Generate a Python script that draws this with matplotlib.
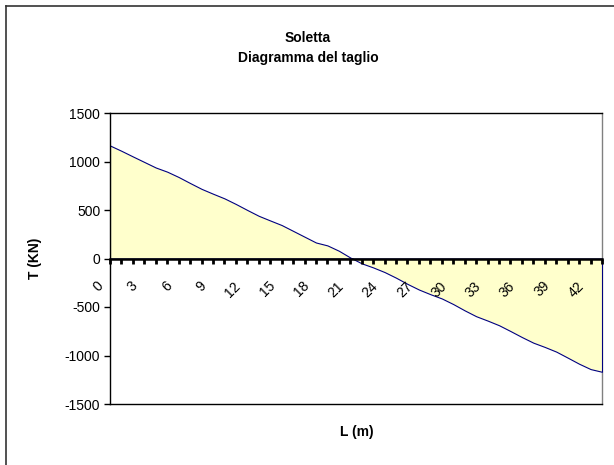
import matplotlib
matplotlib.use("Agg")
import matplotlib.pyplot as plt
from matplotlib.lines import Line2D
from matplotlib.transforms import ScaledTranslation

plt.rcParams['font.family'] = ['Liberation Sans', 'DejaVu Sans']

# Shear along the slab, one value per metre
categories = [0, 1, 2, 3, 4, 5, 6, 7, 8, 9, 10, 11, 12, 13, 14, 15, 16, 17, 18, 19, 20, 21,
              22, 23, 24, 25, 26, 27, 28, 29, 30, 31, 32, 33, 34, 35, 36, 37, 38, 39, 40, 41, 42, 43]
shear = [1165, 1110, 1052, 995, 938, 895, 840, 778, 718, 668, 620, 562, 500, 440, 392,
         345, 285, 225, 165, 135, 80, 10, -50, -92, -140, -198, -262, -320, -368, -412,
         -470, -535, -595, -640, -688, -748, -810, -868, -912, -960, -1022, -1085, -1140, -1168]
xtick_labels = [str(c) if c % 3 == 0 else '' for c in categories]
yticks = [-1500, -1000, -500, 0, 500, 1000, 1500]

title_lines = ['Soletta', 'Diagramma del taglio']
xlabel = 'L (m)'
ylabel = 'T (KN)'

W, H = 614, 465
fig = plt.figure(figsize=(W / 100, H / 100), dpi=100)
fig.patch.set_facecolor('white')

# plot area in pixels
L, R, T, B = 110, 602, 113, 404
ax = fig.add_axes([L / W, 1 - B / H, (R - L) / W, (B - T) / H])
ax.set_axisbelow(False)

ax.fill_between(categories, 0, shear, facecolor='#FFFFCC', edgecolor='#000080',
                linewidth=0.8, zorder=1)

ax.set_xlim(categories[0], categories[-1])
ax.set_ylim(-1500, 1500)

# category axis crosses at zero
ax.spines['bottom'].set_position(('data', 0))
ax.spines['bottom'].set_linewidth(1.8)
ax.spines['bottom'].set_zorder(3)
ax.spines['left'].set_linewidth(1.0)
ax.spines['top'].set_linewidth(1.0)
ax.spines['top'].set_color('#000000')
ax.spines['right'].set_linewidth(1.0)
ax.spines['right'].set_color('#808080')
ax.spines['right'].set_zorder(0.5)
ax.add_line(Line2D([0, 1], [0, 0], transform=ax.transAxes, color='black',
                   linewidth=1.0, clip_on=False))

ax.set_xticks(categories)
ax.set_xticklabels(xtick_labels, rotation=45, ha='right', va='top', fontsize=10)
ax.tick_params(axis='x', direction='out', length=3.6, width=2.0, pad=11.0,
               bottom=True, top=False)
shift = ScaledTranslation(-4 / 100, 0, fig.dpi_scale_trans)
for lab in ax.get_xticklabels():
    lab.set_transform(lab.get_transform() + shift)

ax.set_yticks(yticks)
ax.set_yticklabels([str(v) for v in yticks], fontsize=10)
ax.tick_params(axis='y', direction='out', length=4, width=1.0, pad=3,
               left=True, right=False)

ax.set_ylabel(ylabel, fontsize=10, fontweight='bold')
ax.yaxis.set_label_coords((42 - L) / (R - L), 0.5)

fig.text(357 / W, 1 - 432 / H, xlabel, ha='center', va='center',
         fontsize=10, fontweight='bold')
fig.text(308 / W, 1 - 38 / H, title_lines[0], ha='center', va='center',
         fontsize=10, fontweight='bold')
fig.text(308 / W, 1 - 58 / H, title_lines[1], ha='center', va='center',
         fontsize=10, fontweight='bold')

# outer chart border
fig.add_artist(Line2D([6 / W, 6 / W], [0, 1 - 6 / H], transform=fig.transFigure,
                      color='#333333', linewidth=1.2))
fig.add_artist(Line2D([6 / W, 1], [1 - 6 / H, 1 - 6 / H], transform=fig.transFigure,
                      color='#333333', linewidth=1.2))

fig.savefig('out.png', dpi=100, facecolor='white')
